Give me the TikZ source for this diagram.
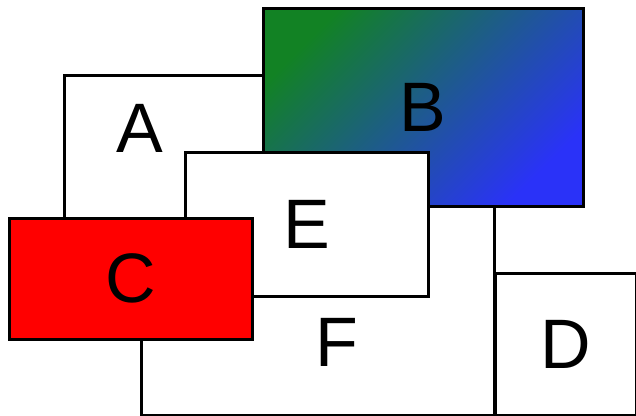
\documentclass[tikz,border=0pt]{standalone}
\usepackage{fontspec}
\setmainfont{Liberation Sans}
\usetikzlibrary{positioning}
\definecolor{bgreen}{RGB}{18,130,36}
\definecolor{bblue}{RGB}{42,50,248}
\definecolor{cred}{RGB}{255,0,0}
\tikzset{box/.style={draw,line width=3pt,fill=white,inner sep=0pt,outer sep=0pt,
    font=\fontsize{70}{70}\selectfont},
  letter/.style={inner sep=0pt,font=\fontsize{70}{70}\selectfont}}

\begin{document}
\begin{tikzpicture}[x=1pt,y=-1pt]
        \useasboundingbox (0,0) rectangle (636,415);
        % F and A lie underneath the rest
        \node[box,minimum width=353pt,minimum height=225pt] (F) at (317.5,302.5) {};
        \node[letter] (lF) at (337,342) {F};
        \node[box,minimum width=236pt,minimum height=165pt] (A) at (182,157.5) {};
        \node[letter] (lA) at (140,128) {A};
        \node[box,minimum width=141pt,minimum height=142pt] (D) at (565.5,344) {D};
        \node[box,minimum width=320pt,minimum height=198pt,top color=bgreen,bottom color=bblue,
          shading angle=45] (B) at (423,107) {B};
        \node[box,minimum width=243pt,minimum height=144pt] (E) at (306.5,224) {E};
        \node[box,minimum width=243pt,minimum height=121pt,fill=cred] (C) at (130.5,278.5) {C};
      \end{tikzpicture}
\end{document}
